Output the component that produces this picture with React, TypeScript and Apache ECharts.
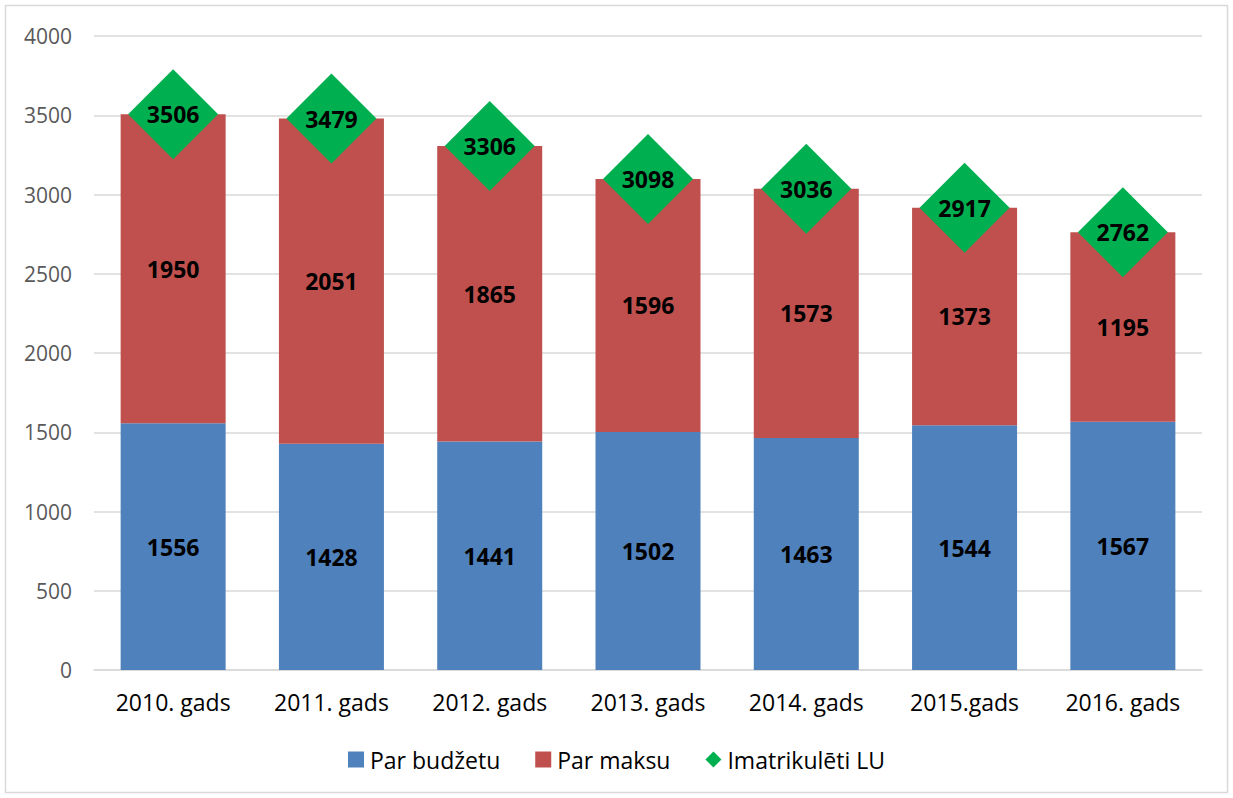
import React, { useEffect, useRef } from "react";
import * as echarts from "echarts";

const categories = ["2010. gads", "2011. gads", "2012. gads", "2013. gads", "2014. gads", "2015.gads", "2016. gads"];
const parBudzetu = [1556, 1428, 1441, 1502, 1463, 1544, 1567];
const parMaksu = [1950, 2051, 1865, 1596, 1573, 1373, 1195];
const imatrikuleti = [3506, 3479, 3306, 3098, 3036, 2917, 2762];
const yTicks = { min: 0, max: 4000, interval: 500 };

const FONT = "'Open Sans', Calibri, sans-serif";

export default function App() {
  const ref = useRef<HTMLDivElement>(null);
  useEffect(() => {
    const chart = echarts.init(ref.current!, undefined, { renderer: "svg" });
    const dataLabel = {
      show: true,
      position: "inside",
      color: "#000",
      fontWeight: "bold",
      fontSize: 23,
      fontFamily: FONT,
    };
    chart.setOption({
      animation: false,
      backgroundColor: "#fff",
      graphic: [
        {
          type: "rect",
          shape: { x: 5.5, y: 5.5, width: 1222, height: 787 },
          style: { fill: "none", stroke: "#d9d9d9", lineWidth: 1.5 },
          silent: true,
        },
      ],
      grid: { left: 94, right: 31, top: 36, bottom: 128, containLabel: false },
      legend: {
        bottom: 22,
        left: "center",
        itemWidth: 16,
        itemHeight: 16,
        itemGap: 35,
        textStyle: { fontSize: 23, fontFamily: FONT, color: "#000", padding: [0, 0, 0, 1] },
        data: [
          { name: "Par budžetu", icon: "rect" },
          { name: "Par maksu", icon: "rect" },
          { name: "Imatrikulēti LU", icon: "diamond" },
        ],
      },
      xAxis: {
        type: "category",
        data: categories,
        axisLine: { lineStyle: { color: "#d9d9d9", width: 1.5 } },
        axisTick: { show: false },
        axisLabel: { fontSize: 23, fontFamily: FONT, color: "#000", margin: 20 },
      },
      yAxis: {
        type: "value",
        min: yTicks.min,
        max: yTicks.max,
        interval: yTicks.interval,
        axisLine: { show: false },
        axisTick: { show: false },
        splitLine: { lineStyle: { color: "#d9d9d9", width: 1.5 } },
        axisLabel: {
          fontSize: 21,
          fontFamily: FONT,
          color: "#595959",
          margin: 22,
          formatter: (v: number) => String(v),
        },
      },
      series: [
        {
          name: "Par budžetu",
          type: "bar",
          stack: "total",
          barWidth: 105,
          data: parBudzetu,
          itemStyle: { color: "#4F81BD" },
          label: dataLabel,
        },
        {
          name: "Par maksu",
          type: "bar",
          stack: "total",
          barWidth: 105,
          data: parMaksu,
          itemStyle: { color: "#C0504D" },
          label: dataLabel,
        },
        {
          name: "Imatrikulēti LU",
          type: "scatter",
          symbol: "diamond",
          symbolSize: [90, 90],
          data: imatrikuleti,
          itemStyle: { color: "#00B050", opacity: 1 },
          label: dataLabel,
          z: 10,
        },
      ],
    });
    return () => chart.dispose();
  }, []);
  return (
    <div
      ref={ref}
      style={{ position: "fixed", left: 0, top: 0, width: 1233, height: 798 }}
    />
  );
}
